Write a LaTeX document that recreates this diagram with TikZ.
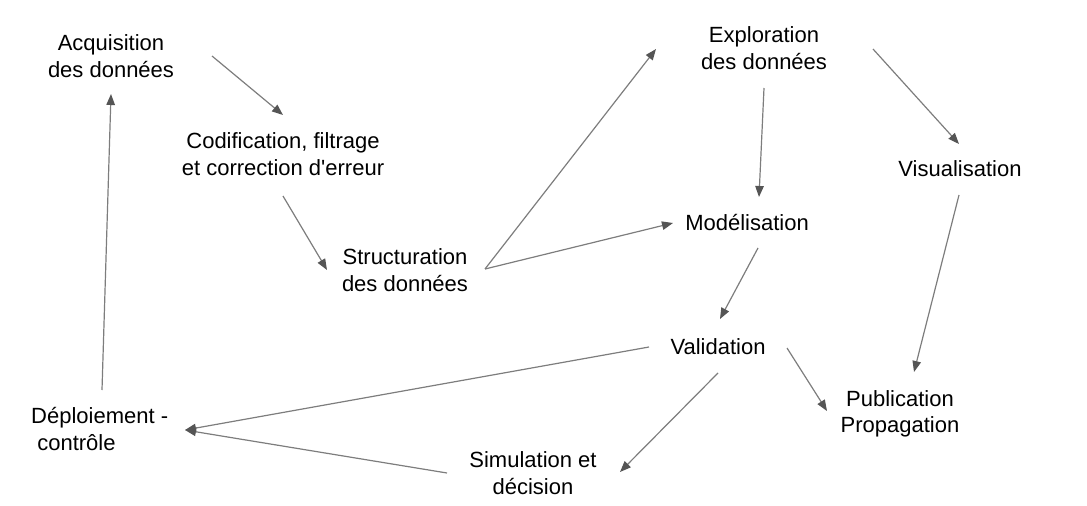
\documentclass[tikz,border=0pt]{standalone}
\usepackage{fontspec}
\setmainfont{Liberation Sans}
\usetikzlibrary{arrows.meta}
\definecolor{linegray}{RGB}{125,125,125}
\definecolor{headgray}{RGB}{85,85,85}
\tikzset{
  lbl/.style={inner sep=0pt, align=center, font=\fontsize{22}{26.5}\selectfont, text=black},
  conn/.style={draw=linegray, line width=1.2pt,
    -{Triangle[length=11pt,width=8.5pt,color=headgray]}}
}
\begin{document}
\begin{tikzpicture}[x=1pt,y=-1pt]
\useasboundingbox (0,0) rectangle (1087,506);
% nodes
\node[lbl] (acq) at (111,56) {Acquisition\\des données};
\node[lbl] (cod) at (283,154) {Codification, filtrage\\et correction d\textquotesingle erreur};
\node[lbl] (str) at (405,270) {Structuration\\des données};
\node[lbl] (exp) at (764,48) {Exploration\\des données};
\node[lbl] (vis) at (960,169) {Visualisation};
\node[lbl] (mod) at (747,223) {Modélisation};
\node[lbl] (val) at (718,346.5) {Validation};
\node[lbl] (pub) at (900,413.8) {Publication\\Propagation};
\node[lbl, align=left, anchor=west] (dep) at (31,429) {Déploiement -\\\hspace*{0.278em}contrôle};
\node[lbl] (sim) at (533,473) {Simulation et\\décision};
% connector end points
\coordinate (a1s) at (212,56);   \coordinate (a1e) at (283,115);
\coordinate (a2s) at (283,196);  \coordinate (a2e) at (327,270);
\coordinate (a3s) at (485,269);  \coordinate (a3e) at (656,49);
\coordinate (a4e) at (673,223);
\coordinate (a5s) at (764,88);   \coordinate (a5e) at (759,197);
\coordinate (a6s) at (873,49);   \coordinate (a6e) at (959,144);
\coordinate (a7s) at (758,248);  \coordinate (a7e) at (720,319);
\coordinate (a8s) at (959,195);  \coordinate (a8e) at (914,372);
\coordinate (a9s) at (787,348);  \coordinate (a9e) at (827,411);
\coordinate (a10s) at (649,347); \coordinate (depR) at (185,430);
\coordinate (a11s) at (718,373); \coordinate (a11e) at (620,472);
\coordinate (a12s) at (447,473);
\coordinate (a13s) at (102,390); \coordinate (a13e) at (111,94);
% connectors
\draw[conn] (a1s) -- (a1e);
\draw[conn] (a2s) -- (a2e);
\draw[conn] (a3s) -- (a3e);
\draw[conn] (a3s) -- (a4e);
\draw[conn] (a5s) -- (a5e);
\draw[conn] (a6s) -- (a6e);
\draw[conn] (a7s) -- (a7e);
\draw[conn] (a8s) -- (a8e);
\draw[conn] (a9s) -- (a9e);
\draw[conn] (a10s) -- (depR);
\draw[conn] (a11s) -- (a11e);
\draw[conn] (a12s) -- (depR);
\draw[conn] (a13s) -- (a13e);
\end{tikzpicture}
\end{document}
